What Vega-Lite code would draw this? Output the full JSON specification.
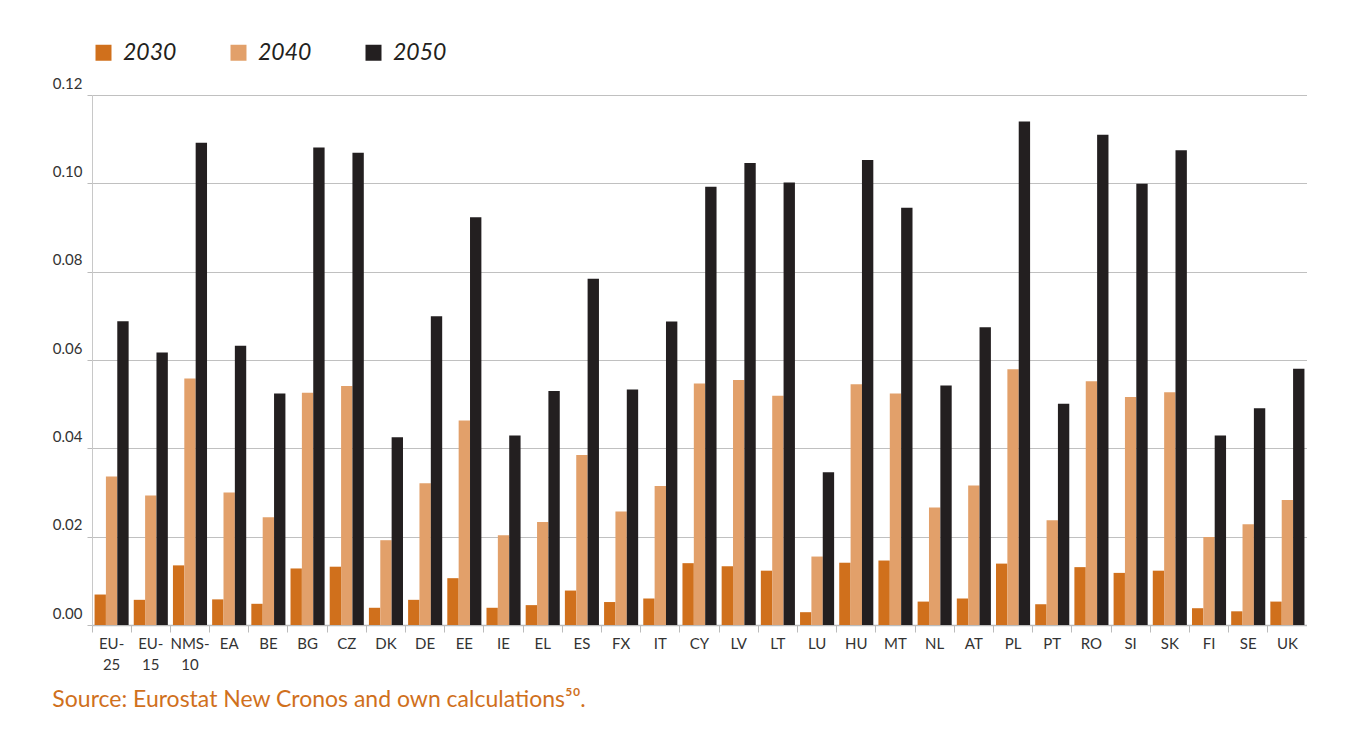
{
  "$schema": "https://vega.github.io/schema/vega-lite/v6.json",
  "width": 1215,
  "height": 530,
  "padding": {"left": 52, "top": 41, "right": 0, "bottom": 0},
  "background": "white",
  "title": {
    "text": "Source: Eurostat New Cronos and own calculations⁵⁰.",
    "orient": "bottom",
    "anchor": "start",
    "frame": "bounds",
    "offset": 17,
    "font": "Lato",
    "fontSize": 23,
    "fontWeight": "normal",
    "color": "#D0701C"
  },
  "data": {
    "values": [
      {"country": "EU-25", "year": "2030", "value": 0.0069}, {"country": "EU-25", "year": "2040", "value": 0.0336}, {"country": "EU-25", "year": "2050", "value": 0.0688},
      {"country": "EU-15", "year": "2030", "value": 0.0057}, {"country": "EU-15", "year": "2040", "value": 0.0293}, {"country": "EU-15", "year": "2050", "value": 0.0617},
      {"country": "NMS-10", "year": "2030", "value": 0.0135}, {"country": "NMS-10", "year": "2040", "value": 0.0558}, {"country": "NMS-10", "year": "2050", "value": 0.1092},
      {"country": "EA", "year": "2030", "value": 0.0058}, {"country": "EA", "year": "2040", "value": 0.0300}, {"country": "EA", "year": "2050", "value": 0.0632},
      {"country": "BE", "year": "2030", "value": 0.0048}, {"country": "BE", "year": "2040", "value": 0.0244}, {"country": "BE", "year": "2050", "value": 0.0524},
      {"country": "BG", "year": "2030", "value": 0.0128}, {"country": "BG", "year": "2040", "value": 0.0526}, {"country": "BG", "year": "2050", "value": 0.1081},
      {"country": "CZ", "year": "2030", "value": 0.0132}, {"country": "CZ", "year": "2040", "value": 0.0541}, {"country": "CZ", "year": "2050", "value": 0.1069},
      {"country": "DK", "year": "2030", "value": 0.0039}, {"country": "DK", "year": "2040", "value": 0.0192}, {"country": "DK", "year": "2050", "value": 0.0425},
      {"country": "DE", "year": "2030", "value": 0.0057}, {"country": "DE", "year": "2040", "value": 0.0321}, {"country": "DE", "year": "2050", "value": 0.0699},
      {"country": "EE", "year": "2030", "value": 0.0106}, {"country": "EE", "year": "2040", "value": 0.0463}, {"country": "EE", "year": "2050", "value": 0.0923},
      {"country": "IE", "year": "2030", "value": 0.0039}, {"country": "IE", "year": "2040", "value": 0.0203}, {"country": "IE", "year": "2050", "value": 0.0429},
      {"country": "EL", "year": "2030", "value": 0.0045}, {"country": "EL", "year": "2040", "value": 0.0233}, {"country": "EL", "year": "2050", "value": 0.0530},
      {"country": "ES", "year": "2030", "value": 0.0078}, {"country": "ES", "year": "2040", "value": 0.0385}, {"country": "ES", "year": "2050", "value": 0.0784},
      {"country": "FX", "year": "2030", "value": 0.0052}, {"country": "FX", "year": "2040", "value": 0.0257}, {"country": "FX", "year": "2050", "value": 0.0533},
      {"country": "IT", "year": "2030", "value": 0.0060}, {"country": "IT", "year": "2040", "value": 0.0315}, {"country": "IT", "year": "2050", "value": 0.0687},
      {"country": "CY", "year": "2030", "value": 0.0140}, {"country": "CY", "year": "2040", "value": 0.0547}, {"country": "CY", "year": "2050", "value": 0.0992},
      {"country": "LV", "year": "2030", "value": 0.0133}, {"country": "LV", "year": "2040", "value": 0.0555}, {"country": "LV", "year": "2050", "value": 0.1046},
      {"country": "LT", "year": "2030", "value": 0.0123}, {"country": "LT", "year": "2040", "value": 0.0519}, {"country": "LT", "year": "2050", "value": 0.1002},
      {"country": "LU", "year": "2030", "value": 0.0029}, {"country": "LU", "year": "2040", "value": 0.0155}, {"country": "LU", "year": "2050", "value": 0.0346},
      {"country": "HU", "year": "2030", "value": 0.0141}, {"country": "HU", "year": "2040", "value": 0.0545}, {"country": "HU", "year": "2050", "value": 0.1053},
      {"country": "MT", "year": "2030", "value": 0.0146}, {"country": "MT", "year": "2040", "value": 0.0524}, {"country": "MT", "year": "2050", "value": 0.0945},
      {"country": "NL", "year": "2030", "value": 0.0053}, {"country": "NL", "year": "2040", "value": 0.0266}, {"country": "NL", "year": "2050", "value": 0.0542},
      {"country": "AT", "year": "2030", "value": 0.0060}, {"country": "AT", "year": "2040", "value": 0.0316}, {"country": "AT", "year": "2050", "value": 0.0674},
      {"country": "PL", "year": "2030", "value": 0.0139}, {"country": "PL", "year": "2040", "value": 0.0579}, {"country": "PL", "year": "2050", "value": 0.1140},
      {"country": "PT", "year": "2030", "value": 0.0047}, {"country": "PT", "year": "2040", "value": 0.0237}, {"country": "PT", "year": "2050", "value": 0.0501},
      {"country": "RO", "year": "2030", "value": 0.0131}, {"country": "RO", "year": "2040", "value": 0.0552}, {"country": "RO", "year": "2050", "value": 0.1110},
      {"country": "SI", "year": "2030", "value": 0.0118}, {"country": "SI", "year": "2040", "value": 0.0516}, {"country": "SI", "year": "2050", "value": 0.0999},
      {"country": "SK", "year": "2030", "value": 0.0123}, {"country": "SK", "year": "2040", "value": 0.0527}, {"country": "SK", "year": "2050", "value": 0.1075},
      {"country": "FI", "year": "2030", "value": 0.0038}, {"country": "FI", "year": "2040", "value": 0.0199}, {"country": "FI", "year": "2050", "value": 0.0429},
      {"country": "SE", "year": "2030", "value": 0.0031}, {"country": "SE", "year": "2040", "value": 0.0228}, {"country": "SE", "year": "2050", "value": 0.0491},
      {"country": "UK", "year": "2030", "value": 0.0053}, {"country": "UK", "year": "2040", "value": 0.0283}, {"country": "UK", "year": "2050", "value": 0.0580}
    ]
  },
  "layer": [
    {
      "mark": {"type": "bar"},
      "encoding": {
        "x": {
          "field": "country",
          "type": "nominal",
          "sort": null,
          "scale": {"paddingInner": 0, "paddingOuter": 0},
          "axis": {
            "title": null,
            "orient": "bottom",
            "labelAngle": 0,
            "labelFont": "Lato",
            "labelFontSize": 15,
            "labelColor": "#333333",
            "labelPadding": 4,
            "bandPosition": 0,
            "labelExpr": "indexof(datum.value, '-') > 0 ? slice(datum.value, 0, indexof(datum.value, '-') + 1) : datum.value",
            "tickSize": 7,
            "tickColor": "#bbbbbb",
            "domainColor": "#bbbbbb",
            "domainWidth": 1.5,
            "grid": false
          }
        },
        "xOffset": {"field": "year", "type": "nominal", "scale": {"paddingInner": 0, "paddingOuter": 0.225}},
        "y": {
          "field": "value",
          "type": "quantitative",
          "stack": null,
          "scale": {"domain": [0, 0.12], "nice": false},
          "axis": {
            "title": null,
            "values": [0, 0.02, 0.04, 0.06, 0.08, 0.1, 0.12],
            "format": ".2f",
            "labelFont": "Lato",
            "labelFontSize": 15,
            "labelColor": "#333333",
            "labelBaseline": "alphabetic",
            "labelOffset": -7,
            "labelPadding": 5,
            "tickSize": 5,
            "tickColor": "#bbbbbb",
            "domainColor": "#c8c8c8",
            "gridColor": "#c0c0c0",
            "gridWidth": 1
          }
        },
        "color": {
          "field": "year",
          "type": "nominal",
          "scale": {"domain": ["2030", "2040", "2050"], "range": ["#D0701C", "#E2A06A", "#231F20"]},
          "legend": {
            "title": null,
            "orient": "none",
            "legendX": 0,
            "legendY": -54,
            "direction": "horizontal",
            "padding": 0,
            "symbolType": "square",
            "symbolSize": 256,
            "symbolStrokeWidth": 0,
            "labelFont": "Lato",
            "labelFontSize": 23,
            "labelFontStyle": "italic",
            "labelColor": "#231F20",
            "labelOffset": 8,
            "columnPadding": 50
          }
        }
      }
    },
    {
      "mark": {"type": "bar", "opacity": 0},
      "encoding": {
        "x": {
          "field": "country",
          "type": "nominal",
          "sort": null,
          "axis": {
            "title": null,
            "orient": "bottom",
            "offset": 28,
            "domain": false,
            "ticks": false,
            "tickSize": 0,
            "grid": false,
            "labelAngle": 0,
            "labelFont": "Lato",
            "labelFontSize": 15,
            "labelColor": "#333333",
            "labelPadding": 4,
            "labelExpr": "indexof(datum.value, '-') > 0 ? slice(datum.value, indexof(datum.value, '-') + 1) : ''"
          }
        },
        "y": {"field": "value", "type": "quantitative", "stack": null}
      }
    }
  ],
  "resolve": {"axis": {"x": "independent"}},
  "config": {
    "view": {"stroke": null}
  }
}
